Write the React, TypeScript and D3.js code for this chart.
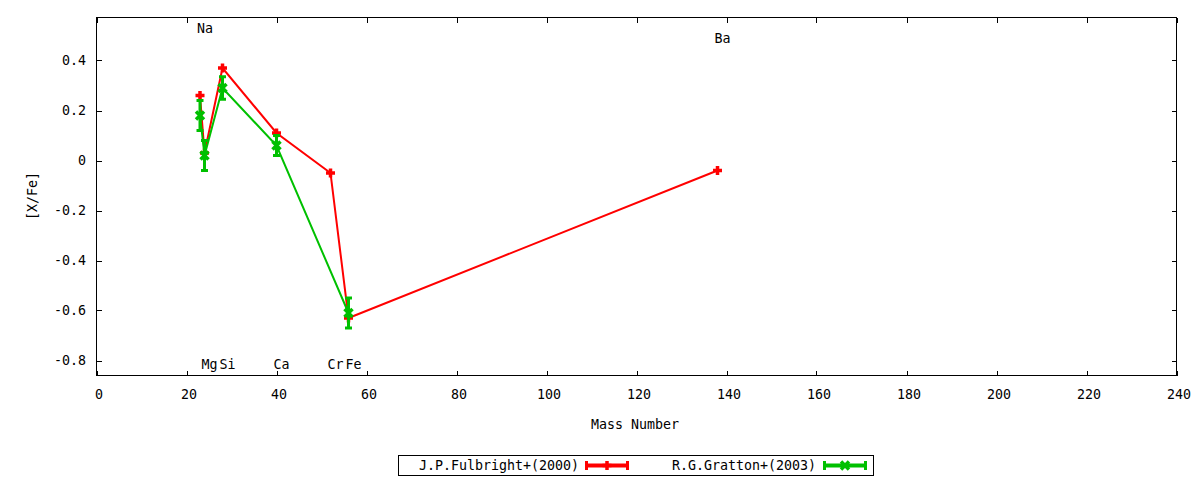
import * as d3 from "d3";
import React, { useEffect, useRef } from "react";

// mass numbers and [X/Fe]
const fulbrightMass = [23, 24, 28, 40, 52, 56, 138];
const fulbrightValues = [0.26, 0.03, 0.37, 0.11, -0.05, -0.63, -0.04];

const grattonMass = [23, 24, 28, 40, 56];
const grattonValues = [0.18, 0.02, 0.29, 0.06, -0.61];
const grattonErrors = [0.06, 0.06, 0.045, 0.04, 0.06];

const elementNames = ["Na", "Mg", "Si", "Ca", "Cr", "Fe", "Ba"];
const elementMass = [23, 24, 28, 40, 52, 56, 138];
const elementLabelY = [0.53, -0.815, -0.815, -0.815, -0.815, -0.815, 0.49];

const xTickValues = [0, 20, 40, 60, 80, 100, 120, 140, 160, 180, 200, 220, 240];
const yTickValues = [-0.8, -0.6, -0.4, -0.2, 0, 0.2, 0.4];
const yTickLabels = ["-0.8", "-0.6", "-0.4", "-0.2", "0", "0.2", "0.4"];

const seriesNames = ["J.P.Fulbright+(2000)", "R.G.Gratton+(2003)"];
const seriesColors = ["#ff0000", "#00c000"];

const FONT = "'DejaVu Sans Mono', monospace";

const App = () => {
  const svgRef = useRef<SVGSVGElement>(null);

  useEffect(() => {
    const svg = d3.select(svgRef.current);
    svg.selectAll("*").remove();

    const left = 96.5,
      right = 1176.5,
      top = 17.5,
      bottom = 375.5,
      tick = 5;

    const x = d3.scaleLinear().domain([0, 240]).range([left, right]);
    const y = d3.scaleLinear().domain([-0.86, 0.572]).range([bottom, top]);

    const text = (g: any) =>
      g.attr("font-family", FONT).attr("font-size", "13.3px").attr("fill", "#000");

    // frame
    svg
      .append("rect")
      .attr("x", left)
      .attr("y", top)
      .attr("width", right - left)
      .attr("height", bottom - top)
      .attr("fill", "none")
      .attr("stroke", "#000")
      .attr("shape-rendering", "crispEdges");

    // x ticks (mirrored on top)
    const xt = svg.append("g").attr("stroke", "#000").attr("shape-rendering", "crispEdges");
    xTickValues.forEach((t) => {
      const px = Math.round(x(t)) + 0.5;
      xt.append("line").attr("x1", px).attr("x2", px).attr("y1", bottom).attr("y2", bottom - tick);
      xt.append("line").attr("x1", px).attr("x2", px).attr("y1", top).attr("y2", top + tick);
    });
    svg
      .append("g")
      .call(text)
      .selectAll("text")
      .data(xTickValues)
      .enter()
      .append("text")
      .attr("x", (d) => x(d) + 2.5)
      .attr("y", 399)
      .attr("text-anchor", "middle")
      .text((d) => String(d));

    // y ticks (mirrored on right)
    const yt = svg.append("g").attr("stroke", "#000").attr("shape-rendering", "crispEdges");
    yTickValues.forEach((t) => {
      const py = Math.round(y(t)) + 0.5;
      yt.append("line").attr("x1", left).attr("x2", left + tick).attr("y1", py).attr("y2", py);
      yt.append("line").attr("x1", right).attr("x2", right - tick).attr("y1", py).attr("y2", py);
    });
    svg
      .append("g")
      .call(text)
      .selectAll("text")
      .data(yTickValues)
      .enter()
      .append("text")
      .attr("x", 86)
      .attr("y", (d) => y(d))
      .attr("dy", "0.36em")
      .attr("text-anchor", "end")
      .text((d, i) => yTickLabels[i]);

    // axis titles
    svg
      .append("text")
      .call(text)
      .attr("x", 635)
      .attr("y", 429)
      .attr("text-anchor", "middle")
      .text("Mass Number");
    svg
      .append("text")
      .call(text)
      .attr("transform", "translate(32,196) rotate(-90)")
      .attr("dy", "0.36em")
      .attr("text-anchor", "middle")
      .text("[X/Fe]");

    // element labels
    svg
      .append("g")
      .call(text)
      .selectAll("text")
      .data(elementNames)
      .enter()
      .append("text")
      .attr("x", (d, i) => x(elementMass[i]) - 3)
      .attr("y", (d, i) => y(elementLabelY[i]))
      .attr("dy", "0.36em")
      .text((d) => d);

    const plus = (cx: number, cy: number, s = 4.5) =>
      `M${cx - s},${cy}H${cx + s}M${cx},${cy - s}V${cy + s}`;
    const cross = (cx: number, cy: number, s = 4) =>
      `M${cx - s},${cy - s}L${cx + s},${cy + s}M${cx - s},${cy + s}L${cx + s},${cy - s}`;

    // Fulbright (red)
    const redPts: [number, number][] = fulbrightMass.map((m, i) => [x(m), y(fulbrightValues[i])]);
    svg
      .append("path")
      .attr("d", d3.line()(redPts))
      .attr("fill", "none")
      .attr("stroke", seriesColors[0])
      .attr("stroke-width", 2);
    svg
      .append("g")
      .selectAll("path")
      .data(redPts)
      .enter()
      .append("path")
      .attr("d", (d) => plus(d[0], d[1]))
      .attr("stroke", seriesColors[0])
      .attr("stroke-width", 3.5);

    // Gratton (green) with error bars
    const greenPts: [number, number][] = grattonMass.map((m, i) => [x(m), y(grattonValues[i])]);
    svg
      .append("path")
      .attr("d", d3.line()(greenPts))
      .attr("fill", "none")
      .attr("stroke", seriesColors[1])
      .attr("stroke-width", 2);
    const eg = svg.append("g").attr("stroke", seriesColors[1]).attr("stroke-width", 3);
    grattonMass.forEach((m, i) => {
      const cx = x(m);
      const y0 = y(grattonValues[i] - grattonErrors[i]);
      const y1 = y(grattonValues[i] + grattonErrors[i]);
      eg.append("line").attr("x1", cx).attr("x2", cx).attr("y1", y0).attr("y2", y1);
      eg.append("line").attr("x1", cx - 3.5).attr("x2", cx + 3.5).attr("y1", y0).attr("y2", y0);
      eg.append("line").attr("x1", cx - 3.5).attr("x2", cx + 3.5).attr("y1", y1).attr("y2", y1);
      eg.append("path").attr("d", cross(cx, y(grattonValues[i]))).attr("stroke-width", 3.5);
    });

    // legend
    svg
      .append("rect")
      .attr("x", 398.5)
      .attr("y", 455.5)
      .attr("width", 475)
      .attr("height", 20)
      .attr("fill", "#fff")
      .attr("stroke", "#000")
      .attr("shape-rendering", "crispEdges");
    const legendTextEnd = [579, 816];
    const sampleStart = [585, 823];
    seriesNames.forEach((name, i) => {
      svg
        .append("text")
        .call(text)
        .attr("x", legendTextEnd[i])
        .attr("y", 465.5)
        .attr("dy", "0.36em")
        .attr("text-anchor", "end")
        .text(name);
      const g = svg.append("g").attr("stroke", seriesColors[i]);
      const x0 = sampleStart[i],
        x1 = x0 + 44,
        cy = 465.5;
      g.append("line").attr("x1", x0).attr("x2", x1).attr("y1", cy).attr("y2", cy).attr("stroke-width", 4);
      g.append("line").attr("x1", x0 + 1.5).attr("x2", x0 + 1.5).attr("y1", cy - 4.5).attr("y2", cy + 4.5).attr("stroke-width", 3);
      g.append("line").attr("x1", x1 - 1.5).attr("x2", x1 - 1.5).attr("y1", cy - 4.5).attr("y2", cy + 4.5).attr("stroke-width", 3);
      g.append("path")
        .attr("d", i === 0 ? plus((x0 + x1) / 2, cy) : cross((x0 + x1) / 2, cy))
        .attr("stroke-width", 3.5);
    });
  }, []);

  return (
    <svg
      ref={svgRef}
      width={1200}
      height={480}
      style={{ position: "absolute", left: 0, top: 0, background: "#fff" }}
    ></svg>
  );
};

export default App;
